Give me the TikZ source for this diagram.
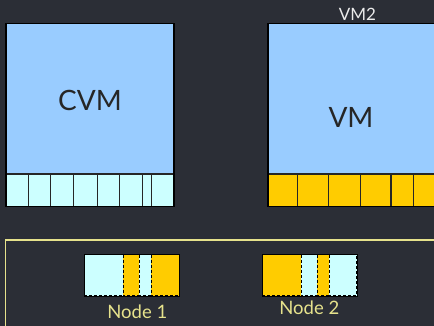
\documentclass[tikz,border=0pt]{standalone}
\usepackage{fontspec}
\setmainfont{Lato}
\definecolor{bgdark}{RGB}{43,46,54}
\definecolor{vmblue}{RGB}{153,204,255}
\definecolor{pagecyan}{RGB}{204,255,255}
\definecolor{pagegold}{RGB}{255,204,0}
\definecolor{framey}{RGB}{230,226,140}
\definecolor{labelgrey}{RGB}{235,235,235}
\tikzset{
  vmbody/.style={draw=black, line width=1.6pt, fill=vmblue},
  stripcell/.style={draw=black!85, line width=1.3pt},
  memcell/.style={draw=black, line width=1pt, dash pattern=on 3pt off 2pt},
  bigtext/.style={font=\fontsize{28}{32}\selectfont, text=black!85},
  nodetext/.style={font=\fontsize{18.5}{22}\selectfont, text=framey},
  toptext/.style={font=\fontsize{17}{20}\selectfont, text=labelgrey},
}
\begin{document}
\begin{tikzpicture}[x=1pt, y=-1pt]
  \useasboundingbox (0,0) rectangle (434,326);
  \fill[bgdark] (0,0) rectangle (434,326);
  \clip (0,0) rectangle (434,326);

  % host frame, running off the right and bottom edges
  \draw[framey, line width=1.3pt] (5.7,340) -- (5.7,240) -- (450,240);

  % ---- CVM ----
  \path[vmbody] (6,23.5) rectangle (174,174);
  \node[bigtext] (cvm) at (90,100.5) {CVM};
  \foreach \a/\b in {6/28.3, 28.3/50.7, 50.7/73.3, 73.3/97.3, 97.3/119.7, 119.7/142.7, 142.7/151.7, 151.7/174}
    \draw[stripcell, fill=pagecyan] (\a,174) rectangle (\b,206.5);
  \draw[black, line width=1.6pt] (6,23.5) rectangle (174,206.5);

  % ---- VM ----
  \path[vmbody] (267.7,23.5) rectangle (460,174);
  \node[bigtext] (vm) at (351,117) {VM};
  \node[toptext] (vmtwo) at (357.5,14) {VM2};
  \foreach \a/\b in {267.7/297.7, 297.7/328.3, 328.3/360.3, 360.3/391, 391/413.3, 413.3/460}
    \draw[stripcell, fill=pagegold] (\a,174) rectangle (\b,206.5);
  \draw[black, line width=1.6pt] (460,23.5) -- (267.7,23.5) -- (267.7,206.5) -- (460,206.5);

  % ---- Node 1 memory ----
  \fill[black] (83.7,253.7) rectangle (180,296.7);
  \draw[memcell, fill=pagecyan] (84.7,254.7) rectangle (123,295.7);
  \draw[memcell, fill=pagegold] (123,254.7) rectangle (139,295.7);
  \draw[memcell, fill=pagecyan] (139,254.7) rectangle (151.3,295.7);
  \draw[memcell, fill=pagegold] (151.3,254.7) rectangle (179,295.7);
  \node[nodetext] (n1) at (137.3,311.5) {Node 1};

  % ---- Node 2 memory ----
  \fill[black] (261.7,253.7) rectangle (357.7,296.7);
  \draw[memcell, fill=pagegold] (262.7,254.7) rectangle (301,295.7);
  \draw[memcell, fill=pagecyan] (301,254.7) rectangle (317,295.7);
  \draw[memcell, fill=pagegold] (317,254.7) rectangle (329.3,295.7);
  \draw[memcell, fill=pagecyan] (329.3,254.7) rectangle (356.7,295.7);
  \node[nodetext] (n2) at (309.3,307.5) {Node 2};
\end{tikzpicture}
\end{document}
